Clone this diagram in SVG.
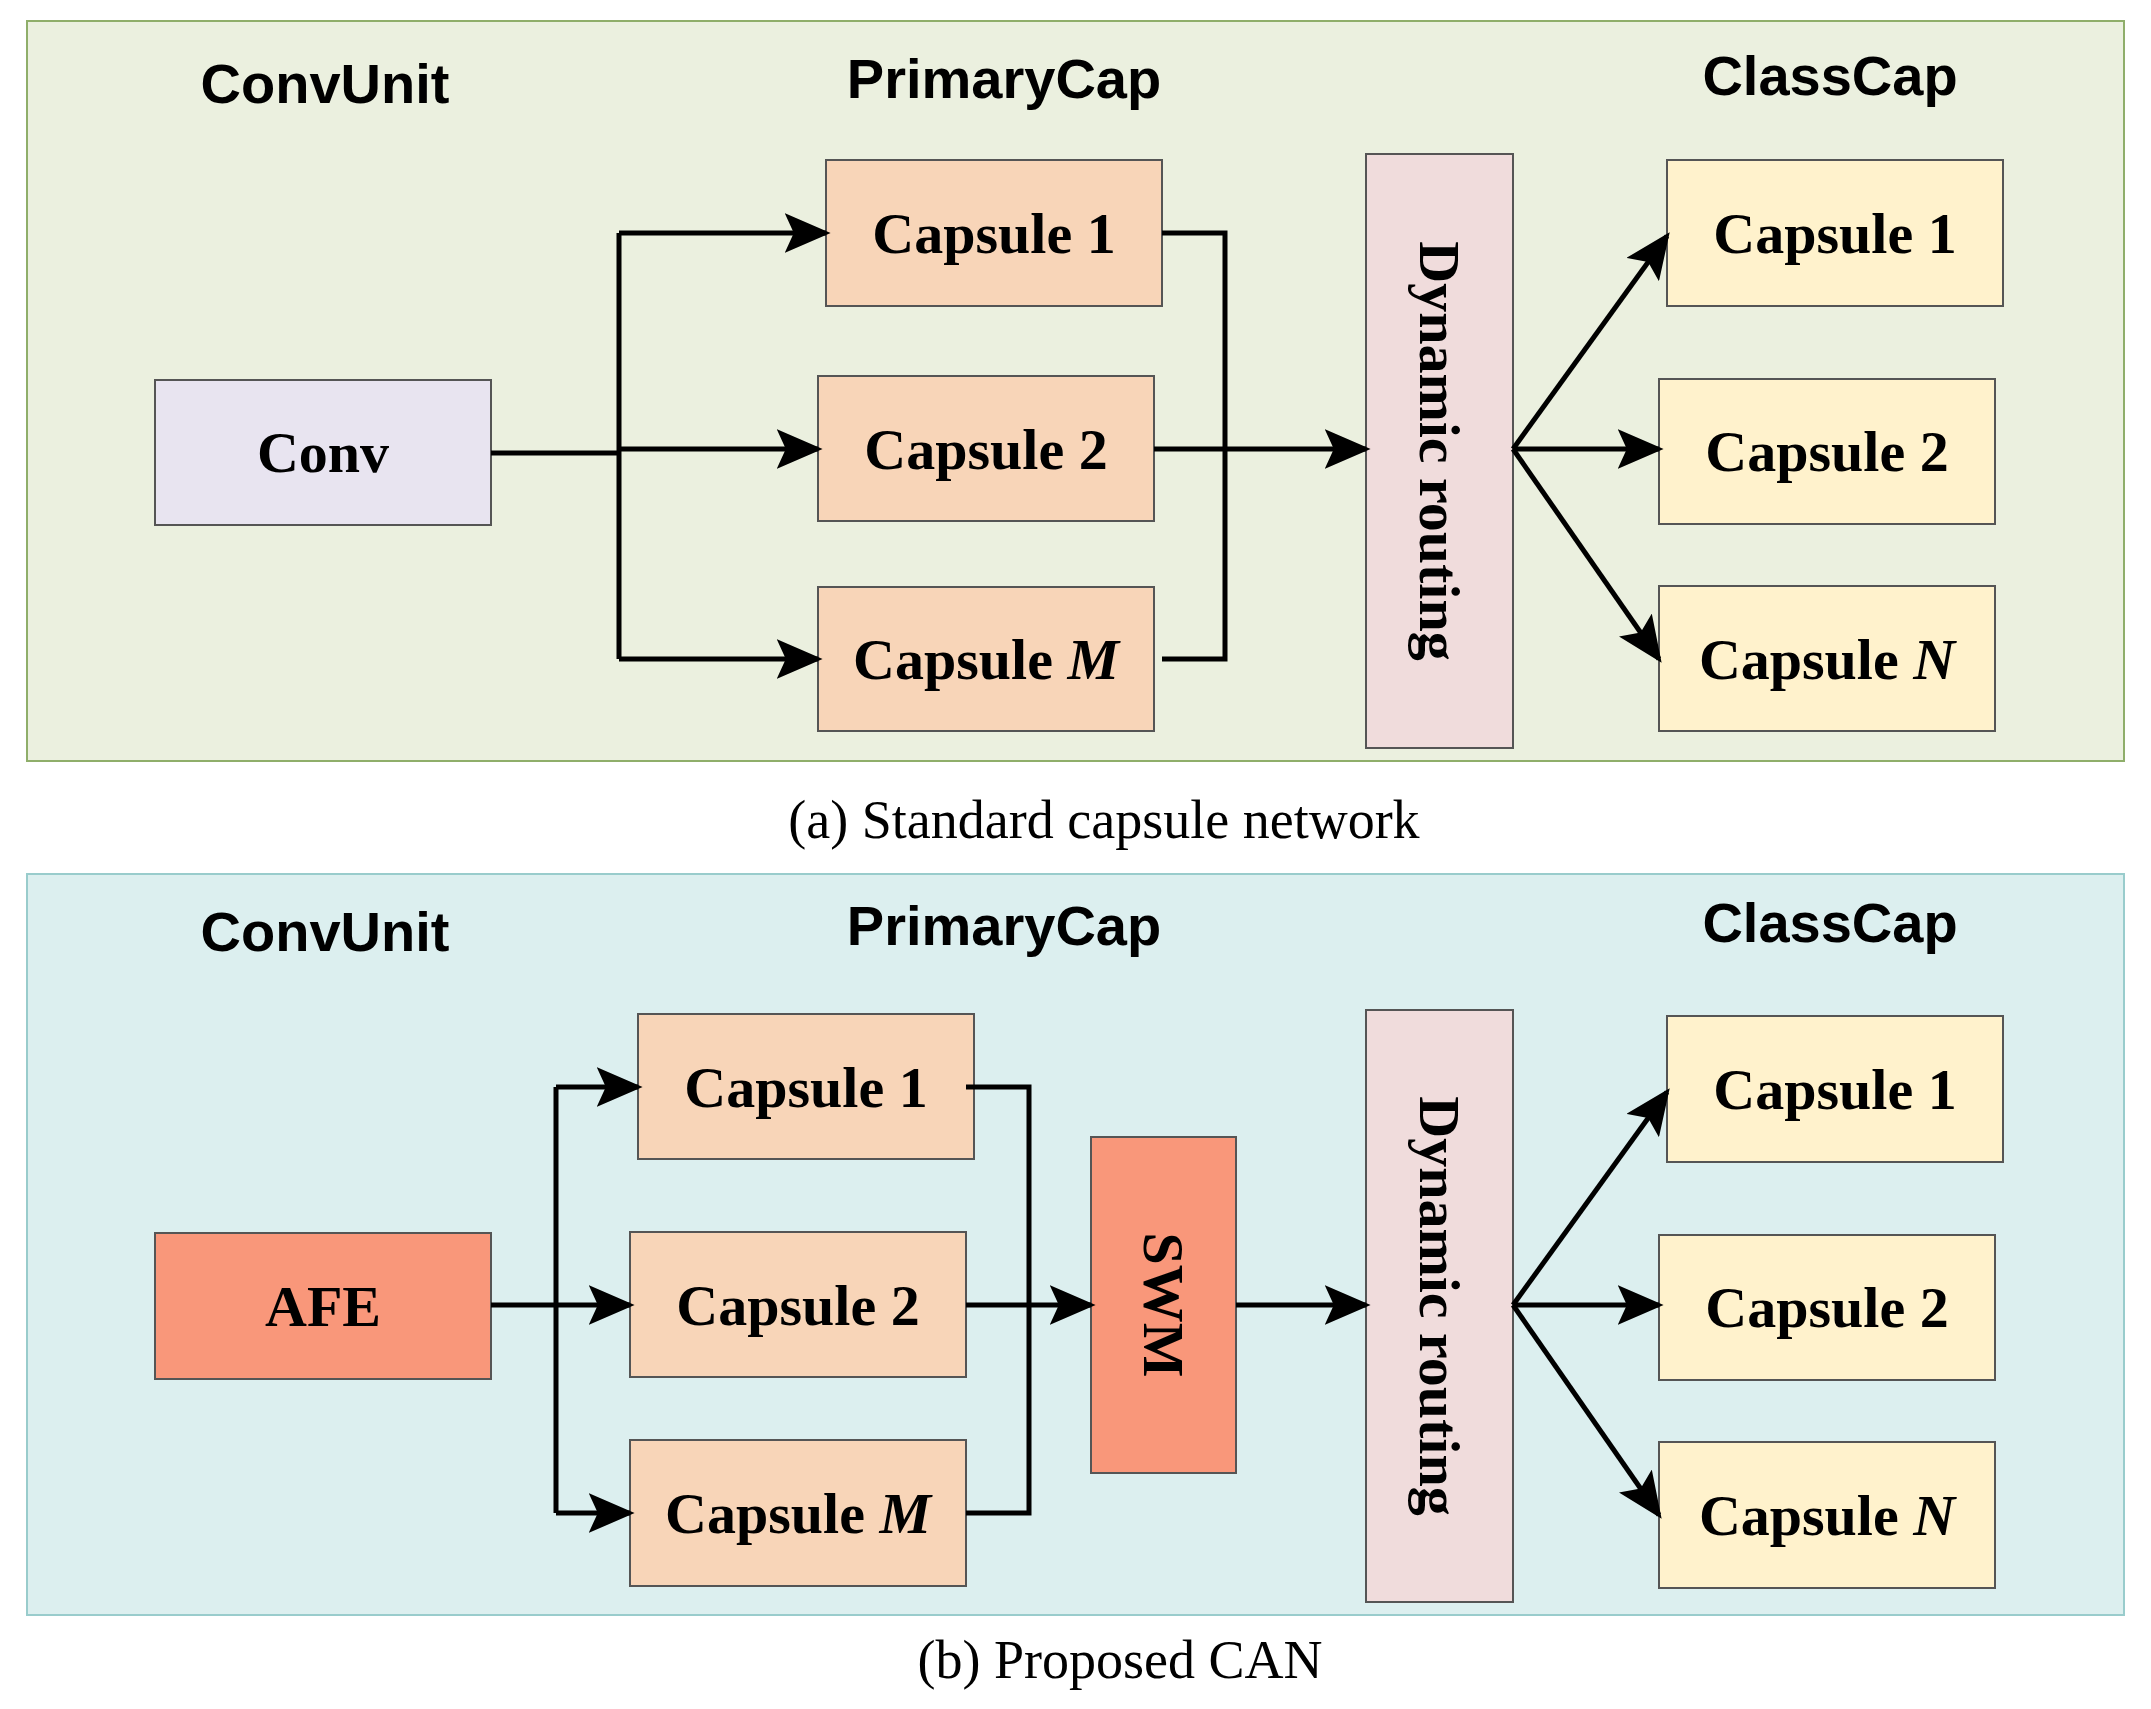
<svg xmlns="http://www.w3.org/2000/svg" width="2151" height="1709" viewBox="0 0 2151 1709">
<style>
.b{stroke:#555;stroke-width:2}
.h{font-family:"Liberation Sans",Arial,sans-serif;font-weight:bold;font-size:56px;text-anchor:middle}
.t{font-family:"Liberation Serif","Times New Roman",serif;font-weight:bold;font-size:58px;text-anchor:middle;dominant-baseline:central}
.c{font-family:"Liberation Serif","Times New Roman",serif;font-size:54px;text-anchor:middle}
.p{fill:#f8d5b8}.y{fill:#fff2cc}.r{fill:#f0dcdc}
.l{fill:none;stroke:#000;stroke-width:5}
</style>
<defs><marker id="a" markerWidth="10" markerHeight="10" refX="9" refY="5" orient="auto" markerUnits="userSpaceOnUse" viewBox="0 0 10 10"><path d="M0,0L10,5L0,10L2,5z"/></marker>
<marker id="m" viewBox="0 0 10 10" refX="9" refY="5" markerWidth="46" markerHeight="40" orient="auto" markerUnits="userSpaceOnUse" preserveAspectRatio="none"><path d="M0,0L10,5L0,10L2,5z"/></marker></defs>
<rect x="27" y="21" width="2097" height="740" fill="#ebf0df" stroke="#8fae6a" stroke-width="2"/>
<rect x="27" y="874" width="2097" height="741" fill="#dcefef" stroke="#9cc" stroke-width="2"/>
<text class="c" x="1104" y="838">(a) Standard capsule network</text>
<text class="c" x="1120" y="1678">(b) Proposed CAN</text>
<g class="h"><text x="325" y="103">ConvUnit</text><text x="1004" y="98">PrimaryCap</text><text x="1830" y="95">ClassCap</text>
<text x="325" y="951">ConvUnit</text><text x="1004" y="945">PrimaryCap</text><text x="1830" y="942">ClassCap</text></g>
<g id="conv"><rect class="b" x="155" y="380" width="336" height="145" fill="#e8e4f0"/><text class="t" x="323" y="452">Conv</text></g>
<g id="a_cap1"><rect class="b p" x="826" y="160" width="336" height="146"/><text class="t" x="994" y="233">Capsule 1</text></g>
<g id="a_cap2"><rect class="b p" x="818" y="376" width="336" height="145"/><text class="t" x="986" y="449">Capsule 2</text></g>
<g id="a_capM"><rect class="b p" x="818" y="587" width="336" height="144"/><text class="t" x="986" y="659">Capsule <tspan font-style="italic">M</tspan></text></g>
<g id="a_route"><rect class="b r" x="1366" y="154" width="147" height="594"/><text class="t" transform="translate(1439,451) rotate(90)">Dynamic routing</text></g>
<g id="a_c1"><rect class="b y" x="1667" y="160" width="336" height="146"/><text class="t" x="1835" y="233">Capsule 1</text></g>
<g id="a_c2"><rect class="b y" x="1659" y="379" width="336" height="145"/><text class="t" x="1827" y="451">Capsule 2</text></g>
<g id="a_cN"><rect class="b y" x="1659" y="586" width="336" height="145"/><text class="t" x="1827" y="659">Capsule <tspan font-style="italic">N</tspan></text></g>
<g id="afe"><rect class="b" x="155" y="1233" width="336" height="146" fill="#f9977a"/><text class="t" x="323" y="1306">AFE</text></g>
<g id="b_cap1"><rect class="b p" x="638" y="1014" width="336" height="145"/><text class="t" x="806" y="1087">Capsule 1</text></g>
<g id="b_cap2"><rect class="b p" x="630" y="1232" width="336" height="145"/><text class="t" x="798" y="1305">Capsule 2</text></g>
<g id="b_capM"><rect class="b p" x="630" y="1440" width="336" height="146"/><text class="t" x="798" y="1513">Capsule <tspan font-style="italic">M</tspan></text></g>
<g id="swm"><rect class="b" x="1091" y="1137" width="145" height="336" fill="#f9977a"/><text class="t" transform="translate(1163,1305) rotate(90)">SWM</text></g>
<g id="b_route"><rect class="b r" x="1366" y="1010" width="147" height="592"/><text class="t" transform="translate(1439,1306) rotate(90)">Dynamic routing</text></g>
<g id="b_c1"><rect class="b y" x="1667" y="1016" width="336" height="146"/><text class="t" x="1835" y="1089">Capsule 1</text></g>
<g id="b_c2"><rect class="b y" x="1659" y="1235" width="336" height="145"/><text class="t" x="1827" y="1307">Capsule 2</text></g>
<g id="b_cN"><rect class="b y" x="1659" y="1442" width="336" height="146"/><text class="t" x="1827" y="1515">Capsule <tspan font-style="italic">N</tspan></text></g>
<g id="connectors" class="l">
<path d="M491,453H619M619,233V659"/>
<path d="M619,233H826" marker-end="url(#m)"/><path d="M619,449H818" marker-end="url(#m)"/><path d="M619,659H818" marker-end="url(#m)"/>
<path d="M1162,233H1225V659H1162"/>
<path d="M1154,449H1366" marker-end="url(#m)"/>
<path d="M1513,449L1667,236" marker-end="url(#m)"/><path d="M1513,449H1659" marker-end="url(#m)"/><path d="M1513,449L1659,659" marker-end="url(#m)"/>
<path d="M491,1305H556M556,1087V1513"/>
<path d="M556,1087H638" marker-end="url(#m)"/><path d="M556,1305H630" marker-end="url(#m)"/><path d="M556,1513H630" marker-end="url(#m)"/>
<path d="M966,1087H1029V1513H966"/>
<path d="M966,1305H1091" marker-end="url(#m)"/>
<path d="M1236,1305H1366" marker-end="url(#m)"/>
<path d="M1513,1305L1667,1092" marker-end="url(#m)"/><path d="M1513,1305H1659" marker-end="url(#m)"/><path d="M1513,1305L1659,1515" marker-end="url(#m)"/>
</g>
</svg>
